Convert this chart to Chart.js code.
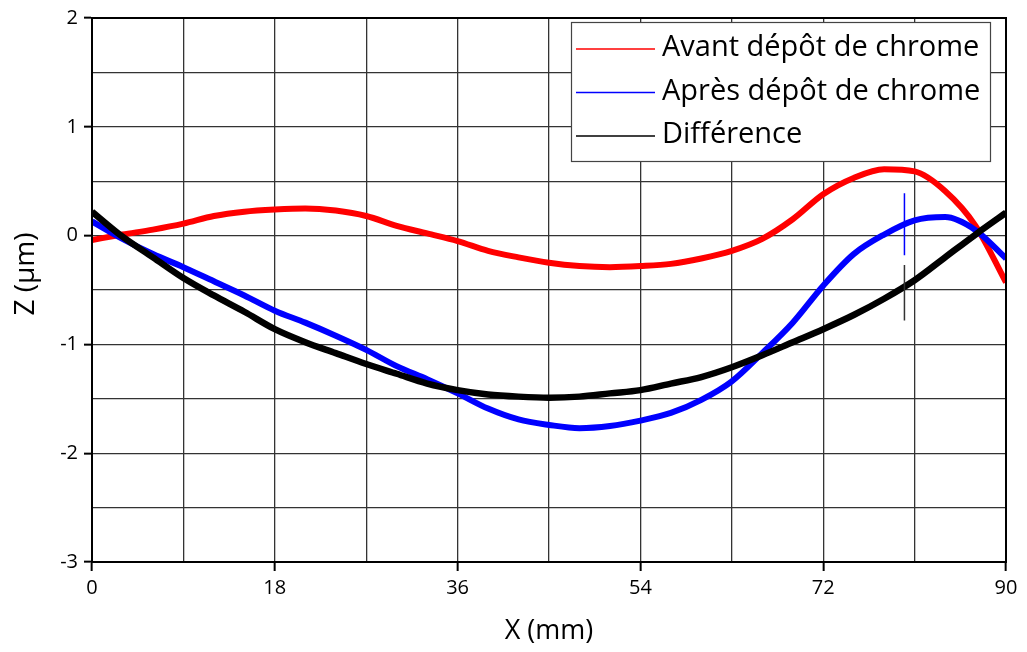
<!DOCTYPE html>
<html>
<head>
<meta charset="utf-8">
<script src="https://cdn.jsdelivr.net/npm/chart.js@4.4.1/dist/chart.umd.min.js"></script>
<style>
  html, body { margin: 0; padding: 0; background: #fff; }
  #wrap { width: 1027px; height: 652px; position: relative; }
</style>
</head>
<body>
<div id="wrap"><canvas id="c" width="1027" height="652"></canvas></div>
<script>
// ---- data ----
const xPositions = [0,3,6,9,12,15,18,21,24,27,30,33,36,39,42,45,48,51,54,57,60,63,66,69,72,75,78,81,84,87,90];
const avantValues = [-0.04,0.01,0.055,0.11,0.18,0.22,0.24,0.25,0.23,0.18,0.09,0.02,-0.05,-0.14,-0.20,-0.25,-0.28,-0.29,-0.28,-0.26,-0.21,-0.14,-0.03,0.15,0.38,0.53,0.61,0.59,0.41,0.09,-0.43];
const apresValues = [0.13,-0.03,-0.17,-0.29,-0.42,-0.55,-0.69,-0.80,-0.92,-1.05,-1.20,-1.32,-1.45,-1.59,-1.69,-1.74,-1.77,-1.75,-1.70,-1.63,-1.51,-1.34,-1.08,-0.80,-0.46,-0.17,0.01,0.14,0.17,0.05,-0.21];
const diffValues = [0.22,-0.01,-0.20,-0.39,-0.55,-0.70,-0.86,-0.98,-1.08,-1.18,-1.27,-1.36,-1.42,-1.46,-1.48,-1.49,-1.48,-1.45,-1.42,-1.36,-1.30,-1.21,-1.10,-0.98,-0.86,-0.73,-0.58,-0.41,-0.20,0.01,0.21];
// measurement spike near x = 80 mm
const spikeX = [80, 80];
const apresSpike = [0.39, -0.18];
const diffSpike = [-0.27, -0.78];

const seriesLabels = ['Avant dépôt de chrome', 'Après dépôt de chrome', 'Différence'];
const xTitle = 'X (mm)';
const yTitle = 'Z (µm)';

const toPts = (xs, ys) => xs.map((x, i) => ({ x: x, y: ys[i] }));

const frame = {
  id: 'frame',
  afterDatasetsDraw(chart) {
    const { ctx, chartArea: a } = chart;
    ctx.save();
    ctx.strokeStyle = '#000';
    ctx.lineWidth = 2;
    ctx.strokeRect(a.left, a.top, a.right - a.left, a.bottom - a.top);
    ctx.restore();
  }
};

const yTitlePlugin = {
  id: 'yTitlePlugin',
  afterDraw(chart) {
    const { ctx, chartArea: a } = chart;
    ctx.save();
    ctx.translate(26, (a.top + a.bottom) / 2 - 16);
    ctx.rotate(-Math.PI / 2);
    ctx.font = '28px "Open Sans", sans-serif';
    ctx.fillStyle = '#000';
    ctx.textAlign = 'center';
    ctx.textBaseline = 'middle';
    ctx.fillText(yTitle, 0, 0);
    ctx.restore();
  }
};

const boxLegend = {
  id: 'boxLegend',
  afterDraw(chart) {
    const { ctx, chartArea: a } = chart;
    const w = 419, h = 139;
    const x0 = a.right - 16 - w, y0 = a.top + 4;
    ctx.save();
    ctx.fillStyle = '#fff';
    ctx.fillRect(x0, y0, w, h);
    ctx.strokeStyle = '#444';
    ctx.lineWidth = 1.2;
    ctx.strokeRect(x0 + 0.5, y0 + 0.5, w, h);
    ctx.font = '29px "Open Sans", "Noto Sans", sans-serif';
    ctx.textBaseline = 'middle';
    const ds = chart.data.datasets.filter(d => !d.hideInLegend);
    ds.forEach((d, i) => {
      const yy = y0 + 27 + i * 43.5;
      ctx.strokeStyle = d.borderColor;
      ctx.lineWidth = 1.6;
      ctx.beginPath();
      ctx.moveTo(x0 + 5, yy);
      ctx.lineTo(x0 + 84, yy);
      ctx.stroke();
      ctx.fillStyle = '#000';
      ctx.fillText(d.label, x0 + 91, yy - 1);
    });
    ctx.restore();
  }
};

new Chart(document.getElementById('c'), {
  type: 'line',
  data: {
    datasets: [
      { label: seriesLabels[0], data: toPts(xPositions, avantValues), borderColor: '#ff0000', borderWidth: 6, pointRadius: 0, cubicInterpolationMode: 'monotone', order: 3 },
      { label: seriesLabels[1], data: toPts(xPositions, apresValues), borderColor: '#0000ff', borderWidth: 6, pointRadius: 0, cubicInterpolationMode: 'monotone', order: 2 },
      { label: seriesLabels[2], data: toPts(xPositions, diffValues), borderColor: '#000000', borderWidth: 6.5, pointRadius: 0, cubicInterpolationMode: 'monotone', order: 1 },
      { label: 'spikeApres', hideInLegend: true, data: toPts(spikeX, apresSpike), borderColor: '#0000ff', borderWidth: 1.5, pointRadius: 0, tension: 0, order: 0 },
      { label: 'spikeDiff', hideInLegend: true, data: toPts(spikeX, diffSpike), borderColor: '#333', borderWidth: 1.5, pointRadius: 0, tension: 0, order: 0 }
    ]
  },
  options: {
    responsive: false,
    animation: false,
    devicePixelRatio: 1,
    layout: { padding: { top: 14, right: 21, left: 0, bottom: 0 } },
    plugins: { legend: { display: false }, tooltip: { enabled: false } },
    scales: {
      x: {
        type: 'linear', min: 0, max: 90,
        afterFit(s) { s.height = 90; },
        ticks: {
          stepSize: 9, autoSkip: false, maxRotation: 0, color: '#000', padding: 5,
          font: { family: '"Open Sans", sans-serif', size: 20 },
          callback: v => (v % 18 === 0 ? String(v) : '')
        },
        grid: {
          color: '#333', lineWidth: 1.3, tickLength: 9,
          tickColor: c => (c.tick && c.tick.value % 18 === 0 ? '#000' : 'rgba(0,0,0,0)'),
          tickWidth: 2
        },
        border: { display: true, color: '#000', width: 2 },
        title: { display: true, text: xTitle, color: '#000', font: { family: '"Open Sans", sans-serif', size: 27 }, padding: { top: 4 } }
      },
      y: {
        type: 'linear', min: -3, max: 2,
        afterFit(s) { s.width = 92; },
        ticks: {
          stepSize: 0.5, autoSkip: false, color: '#000', padding: 6,
          font: { family: '"Open Sans", sans-serif', size: 20 },
          callback: v => (Number.isInteger(v) ? String(v) : '')
        },
        grid: {
          color: '#333', lineWidth: 1.3, tickLength: 8,
          tickColor: c => (c.tick && Number.isInteger(c.tick.value) ? '#000' : 'rgba(0,0,0,0)'),
          tickWidth: 2
        },
        border: { display: true, color: '#000', width: 2 },
        title: { display: false, text: yTitle }
      }
    }
  },
  plugins: [frame, boxLegend, yTitlePlugin]
});
</script>
</body>
</html>
